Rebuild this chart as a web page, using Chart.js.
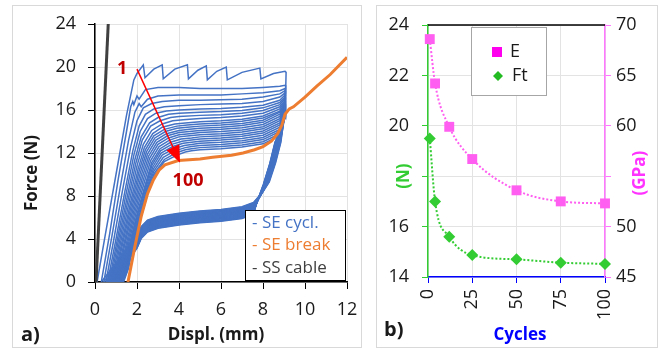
<!DOCTYPE html>
<html>
<head>
<meta charset="utf-8">
<script src="https://cdn.jsdelivr.net/npm/chart.js@4.4.1/dist/chart.umd.min.js"></script>
<style>
html, body { margin: 0; padding: 0; background: #fff; }
body { width: 662px; height: 354px; position: relative; overflow: hidden; }
.panel { position: absolute; border: 1px solid #d9d9d9; box-sizing: border-box; }
canvas { position: absolute; top: 0; }
</style>
</head>
<body>
<div class="panel" style="left:12px;top:5px;width:350px;height:343px"></div>
<div class="panel" style="left:376px;top:5px;width:282px;height:343px"></div>
<canvas id="chartA" width="370" height="354" style="left:0"></canvas>
<canvas id="chartB" width="292" height="354" style="left:370px"></canvas>
<script>
// ---- panel a) : force vs displacement ----
// each SE cycle: loading branch then unloading branch, [displ mm, force N]
const seCycles = [
  [[0.1,0],[0.5,4.5],[1.0,10.0],[1.5,15.5],[1.85,18.8],[2.0,19.4],[2.3,20.2],[2.38,19.0],[2.8,19.8],[3.2,20.2],[3.25,18.9],[3.8,19.8],[4.4,20.2],[4.45,18.9],[4.9,19.7],[5.3,20.1],[5.35,18.8],[5.8,19.6],[6.25,20.0],[6.3,18.8],[7.0,19.5],[7.85,19.9],[7.9,18.9],[8.5,19.4],[9.05,19.6],
   [9.1,19.5],[9.07,17.0],[8.95,14.5],[8.8,12.8],[8.55,11.0],[8.25,9.3],[7.95,8.3],[7.55,7.4],[7.0,7.0],[6.0,6.75],[5.0,6.6],[4.0,6.4],[3.0,6.1],[2.5,5.75],[2.2,5.15],[2.0,4.25],[1.6,3.4],[1.1,2.0],[0.3,0]],
  [[0.3,0],[0.7,4.5],[1.1,9.5],[1.5,14.0],[1.7,16.3],[1.8,16.8],[1.85,16.5],[2.0,17.3],[2.1,17.0],[2.4,17.9],[3.0,18.1],[4.0,18.1],[5.0,18.0],[6.0,18.0],[7.0,18.0],[8.0,18.1],[8.8,18.2],[9.05,18.3],
   [9.08,18.2],[9.02,15.5],[8.85,13.0],[8.6,11.1],[8.3,9.3],[7.95,8.25],[7.55,7.35],[7.0,6.95],[6.0,6.7],[5.0,6.55],[4.0,6.35],[3.0,6.05],[2.5,5.7],[2.2,5.1],[2.0,4.2],[1.6,3.35],[1.1,1.98],[0.42,0]],
  [[0.42,0],[0.8,4.2],[1.2,8.8],[1.6,13.2],[1.9,15.8],[2.1,16.6],[2.2,16.3],[2.5,17.0],[3.0,17.3],[4.0,17.4],[5.0,17.4],[6.0,17.4],[7.0,17.5],[8.0,17.6],[8.8,17.8],[9.05,18.0],
   [9.07,17.9],[9.0,15.0],[8.83,13.0],[8.58,11.1],[8.28,9.3],[7.93,8.2],[7.55,7.3],[7.0,6.9],[6.0,6.65],[5.0,6.5],[4.0,6.3],[3.0,6.0],[2.5,5.65],[2.2,5.05],[2.0,4.15],[1.6,3.3],[1.1,1.95],[0.52,0]],
  [[0.52,0],[0.9,4.0],[1.3,8.4],[1.7,12.6],[2.0,15.0],[2.3,16.2],[2.7,16.6],[3.2,16.8],[4.0,16.9],[5.0,16.9],[6.0,16.95],[7.0,17.0],[8.0,17.2],[8.8,17.5],[9.05,17.8],
   [9.07,17.7],[8.99,15.0],[8.81,13.0],[8.56,11.1],[8.26,9.3],[7.91,8.15],[7.55,7.25],[7.0,6.85],[6.0,6.6],[5.0,6.45],[4.0,6.25],[3.0,5.95],[2.5,5.6],[2.2,5.0],[2.0,4.1],[1.6,3.25],[1.1,1.9],[0.6,0]],
  [[0.6,0],[1.0,4.0],[1.4,8.2],[1.8,12.2],[2.1,14.5],[2.4,15.6],[2.8,16.1],[3.3,16.3],[4.0,16.4],[5.0,16.5],[6.0,16.55],[7.0,16.6],[8.0,16.8],[8.8,17.2],[9.05,17.6],
   [9.07,17.5],[8.98,15.0],[8.8,13.0],[8.55,11.1],[8.25,9.3],[7.9,8.1],[7.55,7.2],[7.0,6.8],[6.0,6.55],[5.0,6.4],[4.0,6.2],[3.0,5.9],[2.5,5.55],[2.2,4.95],[2.0,4.05],[1.6,3.2],[1.1,1.85],[0.67,0]],
  [[0.67,0],[1.05,3.8],[1.45,7.9],[1.85,11.8],[2.15,14.0],[2.5,15.2],[2.9,15.7],[3.4,15.9],[4.0,16.0],[5.0,16.1],[6.0,16.15],[7.0,16.25],[8.0,16.45],[8.8,16.9],[9.05,17.4],
   [9.07,17.3],[8.97,15.0],[8.78,13.0],[8.53,11.1],[8.23,9.3],[7.88,8.05],[7.55,7.15],[7.0,6.75],[6.0,6.5],[5.0,6.35],[4.0,6.15],[3.0,5.85],[2.5,5.5],[2.2,4.9],[2.0,4.0],[1.6,3.15],[1.15,1.8],[0.73,0]],
  [[0.73,0],[1.1,3.7],[1.5,7.6],[1.9,11.4],[2.2,13.5],[2.6,14.8],[3.0,15.3],[3.5,15.6],[4.0,15.7],[5.0,15.8],[6.0,15.85],[7.0,15.95],[8.0,16.2],[8.8,16.7],[9.05,17.2],
   [9.07,17.1],[8.96,15.0],[8.77,13.0],[8.52,11.1],[8.22,9.3],[7.87,8.0],[7.55,7.1],[7.0,6.7],[6.0,6.45],[5.0,6.3],[4.0,6.1],[3.0,5.8],[2.5,5.45],[2.2,4.85],[2.0,3.95],[1.6,3.1],[1.2,1.8],[0.79,0]],
  [[0.79,0],[1.15,3.6],[1.55,7.4],[1.95,11.1],[2.25,13.2],[2.65,14.5],[3.1,15.0],[3.6,15.3],[4.0,15.4],[5.0,15.5],[6.0,15.55],[7.0,15.7],[8.0,15.95],[8.8,16.5],[9.05,17.1],
   [9.07,17.0],[8.95,15.0],[8.75,13.0],[8.5,11.1],[8.2,9.3],[7.85,7.95],[7.55,7.05],[7.0,6.65],[6.0,6.4],[5.0,6.25],[4.0,6.05],[3.0,5.75],[2.5,5.4],[2.2,4.8],[2.0,3.9],[1.6,3.05],[1.2,1.75],[0.84,0]],
  [[0.84,0],[1.2,3.5],[1.6,7.2],[2.0,10.8],[2.3,12.8],[2.7,14.1],[3.2,14.7],[3.7,15.0],[4.2,15.1],[5.0,15.2],[6.0,15.3],[7.0,15.45],[8.0,15.7],[8.8,16.3],[9.05,16.9],
   [9.07,16.8],[8.95,15.0],[8.74,13.0],[8.49,11.1],[8.19,9.3],[7.84,7.9],[7.55,7.0],[7.0,6.6],[6.0,6.35],[5.0,6.2],[4.0,6.0],[3.0,5.7],[2.5,5.35],[2.2,4.75],[2.0,3.85],[1.6,3.0],[1.25,1.7],[0.89,0]],
  [[0.89,0],[1.25,3.4],[1.65,7.0],[2.05,10.5],[2.35,12.5],[2.75,13.8],[3.2,14.4],[3.8,14.7],[4.3,14.8],[5.0,14.9],[6.0,15.0],[7.0,15.15],[8.0,15.45],[8.8,16.1],[9.05,16.8],
   [9.07,16.7],[8.94,15.0],[8.72,13.0],[8.47,11.1],[8.17,9.3],[7.82,7.85],[7.55,6.95],[7.0,6.55],[6.0,6.3],[5.0,6.15],[4.0,5.95],[3.0,5.65],[2.5,5.3],[2.2,4.7],[2.0,3.8],[1.6,2.95],[1.3,1.7],[0.93,0]],
  [[0.93,0],[1.3,3.4],[1.7,6.9],[2.1,10.3],[2.4,12.3],[2.8,13.6],[3.3,14.2],[3.9,14.5],[4.4,14.6],[5.0,14.7],[6.0,14.8],[7.0,14.95],[8.0,15.25],[8.8,15.9],[9.05,16.7],
   [9.07,16.6],[8.93,15.0],[8.71,13.0],[8.46,11.1],[8.16,9.3],[7.81,7.8],[7.55,6.9],[7.0,6.5],[6.0,6.25],[5.0,6.1],[4.0,5.9],[3.0,5.6],[2.5,5.25],[2.2,4.65],[2.0,3.75],[1.6,2.9],[1.3,1.6],[0.97,0]],
  [[0.97,0],[1.35,3.3],[1.75,6.8],[2.15,10.1],[2.45,12.1],[2.85,13.4],[3.35,14.0],[3.9,14.3],[4.4,14.4],[5.0,14.5],[6.0,14.6],[7.0,14.75],[8.0,15.05],[8.8,15.8],[9.05,16.6],
   [9.07,16.5],[8.92,14.8],[8.69,13.0],[8.44,11.0],[8.14,9.1],[7.79,7.75],[7.55,6.85],[7.0,6.45],[6.0,6.2],[5.0,6.05],[4.0,5.85],[3.0,5.55],[2.5,5.2],[2.2,4.6],[2.0,3.7],[1.6,2.85],[1.35,1.6],[1.01,0]],
  [[1.01,0],[1.4,3.3],[1.8,6.7],[2.2,9.9],[2.5,11.9],[2.9,13.2],[3.4,13.8],[4.0,14.1],[4.5,14.2],[5.0,14.3],[6.0,14.4],[7.0,14.55],[8.0,14.85],[8.8,15.6],[9.05,16.5],
   [9.07,16.4],[8.92,14.8],[8.68,13.0],[8.43,11.0],[8.13,9.1],[7.78,7.7],[7.55,6.8],[7.0,6.4],[6.0,6.15],[5.0,6.0],[4.0,5.8],[3.0,5.5],[2.5,5.15],[2.2,4.55],[2.0,3.65],[1.6,2.8],[1.35,1.5],[1.05,0]],
  [[1.05,0],[1.45,3.2],[1.85,6.6],[2.25,9.7],[2.55,11.7],[2.95,13.0],[3.45,13.6],[4.0,13.9],[4.5,14.0],[5.0,14.1],[6.0,14.2],[7.0,14.35],[8.0,14.65],[8.8,15.4],[9.05,16.4],
   [9.07,16.3],[8.91,14.8],[8.66,13.0],[8.41,11.0],[8.11,9.1],[7.76,7.65],[7.55,6.75],[7.0,6.35],[6.0,6.1],[5.0,5.95],[4.0,5.75],[3.0,5.45],[2.5,5.1],[2.2,4.5],[2.0,3.6],[1.6,2.75],[1.4,1.5],[1.09,0]],
  [[1.09,0],[1.5,3.2],[1.9,6.5],[2.3,9.5],[2.6,11.5],[3.0,12.8],[3.5,13.4],[4.0,13.7],[4.5,13.8],[5.0,13.9],[6.0,14.0],[7.0,14.15],[8.0,14.45],[8.8,15.2],[9.05,16.3],
   [9.07,16.2],[8.9,14.8],[8.65,13.0],[8.4,11.0],[8.1,9.1],[7.75,7.6],[7.55,6.7],[7.0,6.3],[6.0,6.05],[5.0,5.9],[4.0,5.7],[3.0,5.4],[2.5,5.05],[2.2,4.45],[2.0,3.55],[1.6,2.7],[1.4,1.4],[1.12,0]],
  [[1.12,0],[1.55,3.2],[1.95,6.4],[2.35,9.3],[2.65,11.3],[3.05,12.6],[3.55,13.2],[4.0,13.5],[4.5,13.6],[5.0,13.7],[6.0,13.8],[7.0,13.95],[8.0,14.25],[8.8,15.0],[9.05,16.2],
   [9.07,16.1],[8.9,14.8],[8.64,13.0],[8.39,11.0],[8.09,9.1],[7.74,7.55],[7.55,6.65],[7.0,6.25],[6.0,6.0],[5.0,5.85],[4.0,5.65],[3.0,5.35],[2.5,5.0],[2.2,4.4],[2.0,3.5],[1.6,2.65],[1.42,1.4],[1.15,0]],
  [[1.15,0],[1.6,3.2],[2.0,6.3],[2.4,9.1],[2.7,11.1],[3.1,12.4],[3.6,13.0],[4.1,13.3],[4.6,13.4],[5.0,13.5],[6.0,13.6],[7.0,13.75],[8.0,14.05],[8.8,14.8],[9.05,16.1],
   [9.07,16.0],[8.89,14.7],[8.63,13.0],[8.38,11.0],[8.08,9.1],[7.73,7.5],[7.55,6.6],[7.0,6.2],[6.0,5.95],[5.0,5.8],[4.0,5.6],[3.0,5.3],[2.5,4.95],[2.2,4.35],[2.0,3.45],[1.6,2.6],[1.45,1.4],[1.18,0]],
  [[1.18,0],[1.62,3.1],[2.02,6.2],[2.42,9.0],[2.72,10.9],[3.12,12.2],[3.65,12.8],[4.15,13.1],[4.6,13.2],[5.0,13.3],[6.0,13.4],[7.0,13.55],[8.0,13.85],[8.8,14.6],[9.05,16.0],
   [9.07,15.9],[8.89,14.6],[8.62,13.0],[8.37,11.0],[8.07,9.1],[7.72,7.45],[7.55,6.55],[7.0,6.15],[6.0,5.9],[5.0,5.75],[4.0,5.55],[3.0,5.25],[2.5,4.9],[2.2,4.3],[2.0,3.4],[1.6,2.55],[1.47,1.3],[1.21,0]],
  [[1.21,0],[1.65,3.1],[2.05,6.1],[2.45,8.9],[2.75,10.7],[3.15,12.0],[3.7,12.6],[4.2,12.9],[4.6,13.0],[5.0,13.1],[6.0,13.2],[7.0,13.35],[8.0,13.65],[8.8,14.4],[9.05,15.9],
   [9.07,15.8],[8.88,14.5],[8.61,13.0],[8.36,11.0],[8.06,9.1],[7.71,7.4],[7.55,6.5],[7.0,6.1],[6.0,5.85],[5.0,5.7],[4.0,5.5],[3.0,5.2],[2.5,4.85],[2.2,4.25],[2.0,3.35],[1.6,2.5],[1.5,1.3],[1.24,0]],
  [[1.24,0],[1.68,3.0],[2.08,6.0],[2.48,8.8],[2.78,10.5],[3.2,11.8],[3.75,12.4],[4.25,12.7],[4.6,12.8],[5.0,12.9],[6.0,13.0],[7.0,13.15],[8.0,13.45],[8.8,14.2],[9.05,15.8],
   [9.07,15.7],[8.88,14.4],[8.6,13.0],[8.35,11.0],[8.05,9.1],[7.7,7.35],[7.55,6.45],[7.0,6.05],[6.0,5.8],[5.0,5.65],[4.0,5.45],[3.0,5.15],[2.5,4.8],[2.2,4.2],[2.0,3.3],[1.65,2.45],[1.52,1.3],[1.27,0]],
  [[1.27,0],[1.7,3.0],[2.1,5.9],[2.5,8.7],[2.8,10.3],[3.25,11.6],[3.8,12.2],[4.3,12.5],[4.6,12.6],[5.0,12.7],[6.0,12.8],[7.0,12.95],[8.0,13.25],[8.8,14.0],[9.05,15.7],
   [9.07,15.6],[8.87,14.3],[8.59,13.0],[8.34,11.0],[8.04,9.1],[7.69,7.3],[7.55,6.4],[7.0,6.0],[6.0,5.75],[5.0,5.6],[4.0,5.4],[3.0,5.1],[2.5,4.75],[2.2,4.15],[2.0,3.25],[1.65,2.4],[1.55,1.3],[1.3,0]],
  [[1.3,0],[1.72,3.0],[2.12,5.8],[2.52,8.6],[2.82,10.1],[3.3,11.4],[3.85,12.0],[4.3,12.3],[4.6,12.4],[5.0,12.5],[6.0,12.6],[7.0,12.75],[8.0,13.05],[8.8,13.8],[9.05,15.6],
   [9.07,15.5],[8.87,14.2],[8.58,13.0],[8.33,11.0],[8.03,9.1],[7.68,7.25],[7.55,6.35],[7.0,5.95],[6.0,5.7],[5.0,5.55],[4.0,5.35],[3.0,5.05],[2.5,4.7],[2.2,4.1],[2.0,3.2],[1.7,2.4],[1.58,1.3],[1.33,0]],
  [[1.33,0],[1.75,3.0],[2.15,5.7],[2.55,8.5],[2.85,10.0],[3.3,11.2],[3.9,11.8],[4.3,12.1],[4.6,12.2],[5.0,12.3],[6.0,12.4],[7.0,12.55],[8.0,12.85],[8.8,13.6],[9.05,15.5],
   [9.07,15.4],[8.86,14.1],[8.57,13.0],[8.32,11.0],[8.02,9.1],[7.67,7.2],[7.55,6.3],[7.0,5.9],[6.0,5.65],[5.0,5.5],[4.0,5.3],[3.0,5.0],[2.5,4.65],[2.2,4.05],[2.0,3.15],[1.7,2.3],[1.6,1.3],[1.36,0]]
];

// SE break (orange) and SS cable (black)
const seBreak = [[1.57,0],[1.9,3.3],[2.2,6.1],[2.5,8.2],[2.78,9.5],[3.05,10.4],[3.33,10.9],[3.97,11.3],[5.0,11.45],[5.6,11.6],[6.5,11.8],[7.05,12.0],[7.6,12.3],[8.0,12.6],[8.4,13.1],[8.7,13.8],[8.9,14.6],[9.05,15.6],[9.25,16.1],[9.45,16.3],[10.0,17.2],[10.55,18.2],[11.2,19.3],[12.0,20.9]];
const ssCable = [[0.05,0],[0.63,24]];

// arrow "1" -> "100"
const arrowFrom = [2.0, 19.8];
const arrowTo = [4.05, 11.1];
const label1At = [1.29, 19.8];
const label100At = [4.43, 9.4];

// ---- panel b) : E and Ft vs cycles ----
const cycles = [1, 4, 12, 25, 50, 75, 100];
const modulusE = [68.6, 64.2, 59.9, 56.7, 53.6, 52.5, 52.3];   // GPa
const forceFt = [19.5, 17.0, 15.6, 14.87, 14.7, 14.57, 14.52]; // N

Chart.defaults.font.family = "'Open Sans', sans-serif";
Chart.defaults.font.size = 18;
Chart.defaults.color = '#1a1a1a';

const BLUE = '#4472c4', ORANGE = '#ed7d31', DARK = '#404040';
const GRID = '#e3e3e3';

function pts(arr) { return arr.map(p => ({ x: p[0], y: p[1] })); }

const setsA = [
  { data: pts(seBreak), borderColor: ORANGE, borderWidth: 3, showLine: true, pointRadius: 0 },
  { data: pts(ssCable), borderColor: DARK, borderWidth: 3, showLine: true, pointRadius: 0 }
].concat(seCycles.map(c => ({
  data: pts(c), borderColor: BLUE, borderWidth: 1.5, showLine: true, pointRadius: 0
})));

const notesA = {
  id: 'notesA',
  afterDatasetsDraw(chart) {
    const { ctx } = chart;
    const sx = chart.scales.x, sy = chart.scales.y;
    ctx.save();
    // arrow
    const x1 = sx.getPixelForValue(arrowFrom[0]), y1 = sy.getPixelForValue(arrowFrom[1]);
    const x2 = sx.getPixelForValue(arrowTo[0]), y2 = sy.getPixelForValue(arrowTo[1]);
    const a = Math.atan2(y2 - y1, x2 - x1);
    const c = Math.cos(a), s = Math.sin(a);
    ctx.strokeStyle = '#ff0000';
    ctx.lineWidth = 1.5;
    ctx.beginPath();
    ctx.moveTo(x1, y1);
    ctx.lineTo(x2 - 12 * c, y2 - 12 * s);
    ctx.stroke();
    ctx.fillStyle = '#ff0000';
    ctx.beginPath();
    ctx.moveTo(x2, y2);
    ctx.lineTo(x2 - 17 * c + 7 * s, y2 - 17 * s - 7 * c);
    ctx.lineTo(x2 - 17 * c - 7 * s, y2 - 17 * s + 7 * c);
    ctx.closePath();
    ctx.fill();
    // 1 / 100
    ctx.fillStyle = '#c00000';
    ctx.font = "bold 18px 'Open Sans'";
    ctx.textAlign = 'center';
    ctx.textBaseline = 'middle';
    ctx.fillText('1', sx.getPixelForValue(label1At[0]), sy.getPixelForValue(label1At[1]));
    ctx.fillText('100', sx.getPixelForValue(label100At[0]), sy.getPixelForValue(label100At[1]));
    // legend
    ctx.fillStyle = '#fff';
    ctx.fillRect(245, 210, 100, 70);
    ctx.strokeStyle = '#000';
    ctx.lineWidth = 1;
    ctx.strokeRect(245.5, 210.5, 100, 70);
    ctx.font = "17px 'Open Sans'";
    ctx.textAlign = 'left';
    const leg = [['- SE cycl.', BLUE], ['- SE break', ORANGE], ['- SS cable', DARK]];
    leg.forEach((l, i) => {
      ctx.fillStyle = l[1];
      ctx.fillText(l[0], 252, 223 + i * 22.5);
    });
    // axis titles
    ctx.fillStyle = '#1a1a1a';
    ctx.font = "bold 17px 'Open Sans'";
    ctx.textAlign = 'center';
    ctx.fillText('Displ. (mm)', 216, 335);
    ctx.save();
    ctx.translate(32, 173);
    ctx.rotate(-Math.PI / 2);
    ctx.fillText('Force (N)', 0, 0);
    ctx.restore();
    ctx.font = "bold 20px 'Open Sans'";
    ctx.textAlign = 'left';
    ctx.textBaseline = 'alphabetic';
    ctx.fillText('a)', 21, 341);
    ctx.restore();
  }
};

new Chart(document.getElementById('chartA'), {
  type: 'scatter',
  data: { datasets: setsA },
  options: {
    responsive: false,
    animation: false,
    layout: { padding: { left: 0, top: 24, right: 23, bottom: 0 } },
    plugins: { legend: { display: false }, tooltip: { enabled: false } },
    scales: {
      x: {
        type: 'linear', min: 0, max: 12,
        ticks: { stepSize: 2, padding: 10 },
        grid: { color: GRID, tickColor: '#000', tickLength: 7 },
        border: { color: '#000', width: 1.5 },
        afterFit: s => { s.height = 72; }
      },
      y: {
        min: 0, max: 24,
        ticks: { stepSize: 4, padding: 12 },
        grid: { color: GRID, tickColor: '#000', tickLength: 7 },
        border: { color: '#000', width: 1.5 },
        afterFit: s => { s.width = 95; }
      }
    }
  },
  plugins: [notesA]
});

// ---- chart b ----
const GREEN = '#33cc33', PINK = '#ff5ef0', AXBLUE = '#0000ff', AXPINK = '#ff77ff';

const notesB = {
  id: 'notesB',
  afterDraw(chart) {
    const { ctx, chartArea } = chart;
    ctx.save();
    // top frame line
    ctx.strokeStyle = '#000';
    ctx.lineWidth = 1.5;
    ctx.beginPath();
    ctx.moveTo(chartArea.left, chartArea.top);
    ctx.lineTo(chartArea.right, chartArea.top);
    ctx.stroke();
    // legend
    ctx.fillStyle = '#fff';
    ctx.fillRect(101, 27, 75, 68);
    ctx.strokeStyle = '#a6a6a6';
    ctx.lineWidth = 1;
    ctx.strokeRect(101.5, 27.5, 75, 68);
    ctx.fillStyle = '#ff00ee';
    ctx.fillRect(122, 47, 10, 10);
    ctx.fillStyle = '#22bb22';
    ctx.beginPath();
    ctx.moveTo(128, 71); ctx.lineTo(133, 76); ctx.lineTo(128, 81); ctx.lineTo(123, 76);
    ctx.closePath();
    ctx.fill();
    ctx.fillStyle = '#1a1a1a';
    ctx.font = "18px 'Open Sans'";
    ctx.textAlign = 'left';
    ctx.textBaseline = 'middle';
    ctx.fillText('E', 140, 52);
    ctx.fillText('Ft', 142, 76);
    // axis titles
    ctx.font = "bold 17px 'Open Sans'";
    ctx.textAlign = 'center';
    const yN = chart.scales.y.getPixelForValue(18);
    const yG = chart.scales.y2.getPixelForValue(55);
    ctx.fillStyle = GREEN;
    ctx.save(); ctx.translate(34, yN); ctx.rotate(-Math.PI / 2); ctx.fillText('(N)', 0, 0); ctx.restore();
    ctx.fillStyle = '#ff33ff';
    ctx.save(); ctx.translate(270, yG - 3); ctx.rotate(-Math.PI / 2); ctx.fillText('(GPa)', 0, 0); ctx.restore();
    ctx.fillStyle = AXBLUE;
    ctx.fillText('Cycles', 150, 335);
    ctx.fillStyle = '#1a1a1a';
    ctx.font = "bold 20px 'Open Sans'";
    ctx.textAlign = 'left';
    ctx.textBaseline = 'alphabetic';
    ctx.fillText('b)', 14, 336);
    ctx.restore();
  }
};

new Chart(document.getElementById('chartB'), {
  type: 'line',
  data: {
    datasets: [
      {
        label: 'E', yAxisID: 'y2',
        data: cycles.map((c, i) => ({ x: c, y: modulusE[i] })),
        borderColor: PINK, backgroundColor: PINK, borderWidth: 2, borderDash: [2, 2],
        pointStyle: 'rect', pointRadius: 7, pointBorderWidth: 0,
        cubicInterpolationMode: 'monotone', clip: false
      },
      {
        label: 'Ft', yAxisID: 'y',
        data: cycles.map((c, i) => ({ x: c, y: forceFt[i] })),
        borderColor: GREEN, backgroundColor: GREEN, borderWidth: 2, borderDash: [2, 2],
        pointStyle: 'rectRot', pointRadius: 6, pointBorderWidth: 0,
        cubicInterpolationMode: 'monotone', clip: false
      }
    ]
  },
  options: {
    responsive: false,
    animation: false,
    layout: { padding: { left: 0, top: 25, right: 0, bottom: 0 } },
    plugins: { legend: { display: false }, tooltip: { enabled: false } },
    scales: {
      x: {
        type: 'linear', min: 0, max: 100,
        ticks: { stepSize: 25, minRotation: 90, maxRotation: 90, padding: 6 },
        grid: { color: GRID, tickColor: AXBLUE, tickLength: 6 },
        border: { color: AXBLUE, width: 1.5 },
        afterFit: s => { s.height = 77; }
      },
      y: {
        position: 'left', min: 14, max: 24,
        ticks: { stepSize: 2, padding: 13, callback: v => (v === 18 ? '' : v) },
        grid: { color: GRID, tickColor: GREEN, tickLength: 6 },
        border: { color: GREEN, width: 1.5 },
        afterFit: s => { s.width = 58; }
      },
      y2: {
        position: 'right', min: 45, max: 70,
        ticks: { stepSize: 5, padding: 5, callback: v => (v === 55 ? '' : v) },
        grid: { drawOnChartArea: false, tickColor: AXPINK, tickLength: 6 },
        border: { color: AXPINK, width: 1.5 },
        afterFit: s => { s.width = 57; }
      }
    }
  },
  plugins: [notesB]
});
</script>
</body>
</html>
